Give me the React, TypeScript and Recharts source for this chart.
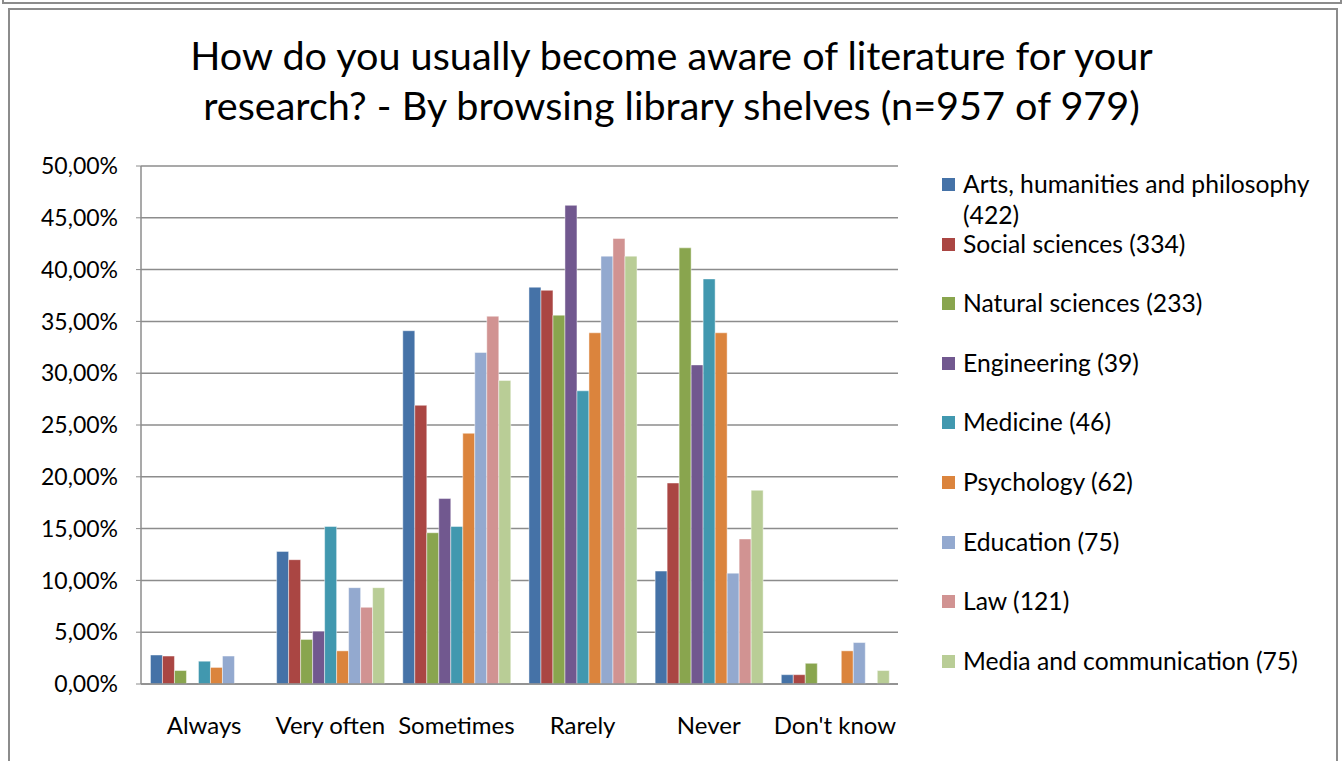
import React from 'react';
import { BarChart, Bar, XAxis, YAxis, CartesianGrid, Legend } from 'recharts';

const categories = ['Always', 'Very often', 'Sometimes', 'Rarely', 'Never', "Don't know"];
const seriesNames = [
  'Arts, humanities and philosophy (422)',
  'Social sciences (334)',
  'Natural sciences (233)',
  'Engineering (39)',
  'Medicine (46)',
  'Psychology (62)',
  'Education (75)',
  'Law (121)',
  'Media and communication (75)',
];
const seriesColors = ['#4572A7', '#AA4643', '#89A54E', '#71588F', '#4198AF', '#DB843D', '#93A9CF', '#D19392', '#B9CD96'];

const arts = [2.8, 12.8, 34.1, 38.3, 10.9, 0.9];
const social = [2.7, 12.0, 26.9, 38.0, 19.4, 0.9];
const natural = [1.3, 4.3, 14.6, 35.6, 42.1, 2.0];
const engineering = [0, 5.1, 17.9, 46.2, 30.8, 0];
const medicine = [2.2, 15.2, 15.2, 28.3, 39.1, 0];
const psychology = [1.6, 3.2, 24.2, 33.9, 33.9, 3.2];
const education = [2.7, 9.3, 32.0, 41.3, 10.7, 4.0];
const law = [0, 7.4, 35.5, 43.0, 14.0, 0];
const media = [0, 9.3, 29.3, 41.3, 18.7, 1.3];

const seriesValues = [arts, social, natural, engineering, medicine, psychology, education, law, media];
const yTicks = [0, 5, 10, 15, 20, 25, 30, 35, 40, 45, 50];

const data = categories.map((c, i) => {
  const row: Record<string, any> = { category: c };
  seriesValues.forEach((vals, s) => {
    row['s' + s] = vals[i];
  });
  return row;
});

const FONT = 'Lato, "Open Sans", sans-serif';

const fmt = (v: number) => v.toFixed(2).replace('.', ',') + '%';

const renderLegend = () => (
  <div style={{ position: 'absolute', left: 942, top: 168, fontFamily: FONT }}>
    {seriesNames.map((n, i) => (
      <div key={n} style={{ position: 'relative', height: 59.6, width: 395 }}>
        <div
          style={{
            position: 'absolute',
            left: 0,
            top: 10,
            width: 13,
            height: 13,
            background: seriesColors[i],
          }}
        />
        <div
          style={{
            position: 'absolute',
            left: 21,
            top: 0,
            width: 365,
            fontSize: 24.7,
            lineHeight: '31px',
            color: '#000',
            whiteSpace: 'normal',
            textAlign: 'left',
          }}
        >
          {n}
        </div>
      </div>
    ))}
  </div>
);

export default function App() {
  return (
    <div style={{ position: 'absolute', left: 0, top: 0, width: 1343, height: 761, background: '#fff', overflow: 'hidden' }}>
      <div style={{ position: 'absolute', left: 2, top: -12, width: 1336, height: 12, border: '2px solid #8c8c8c' }} />
      <div style={{ position: 'absolute', left: 8, top: 8, width: 1326, height: 770, border: '2px solid #8c8c8c' }} />
      <div
        style={{
          position: 'absolute',
          left: 0,
          top: 30,
          width: 1343,
          textAlign: 'center',
          fontFamily: FONT,
          fontSize: 39.6,
          lineHeight: '50px',
          color: '#000',
        }}
      >
        How do you usually become aware of literature for your
        <br />
        research? - By browsing library shelves (n=957 of 979)
      </div>
      <div style={{ position: 'absolute', left: 0, top: 0 }}>
        <BarChart
          width={1343}
          height={761}
          data={data}
          margin={{ top: 166, right: 445, bottom: 37, left: 0 }}
          barCategoryGap="7.5%"
          barGap={0}
        >
          <CartesianGrid vertical={false} stroke="#8c8c8c" strokeWidth={1.5} />
          <XAxis
            dataKey="category"
            height={40}
            tickLine={false}
            axisLine={{ stroke: '#8c8c8c', strokeWidth: 1.5 }}
            tickMargin={27}
            tick={{ fill: '#000', fontSize: 24, fontFamily: FONT }}
            interval={0}
          />
          <YAxis
            width={141}
            domain={[0, 50]}
            ticks={yTicks}
            tickFormatter={fmt}
            tickSize={5}
            tickMargin={18}
            tickLine={{ stroke: '#8c8c8c' }}
            axisLine={{ stroke: '#8c8c8c', strokeWidth: 1.5 }}
            tick={{ fill: '#000', fontSize: 23, fontFamily: FONT }}
            interval={0}
          />
          <Legend content={renderLegend} wrapperStyle={{ position: 'absolute', left: 0, top: 0, width: 0, height: 0 }} />
          {seriesNames.map((n, i) => (
            <Bar
              key={n}
              dataKey={'s' + i}
              name={n}
              fill={seriesColors[i]}
              stroke="rgba(255,255,255,0.45)"
              strokeWidth={1}
              isAnimationActive={false}
            />
          ))}
        </BarChart>
      </div>
    </div>
  );
}
